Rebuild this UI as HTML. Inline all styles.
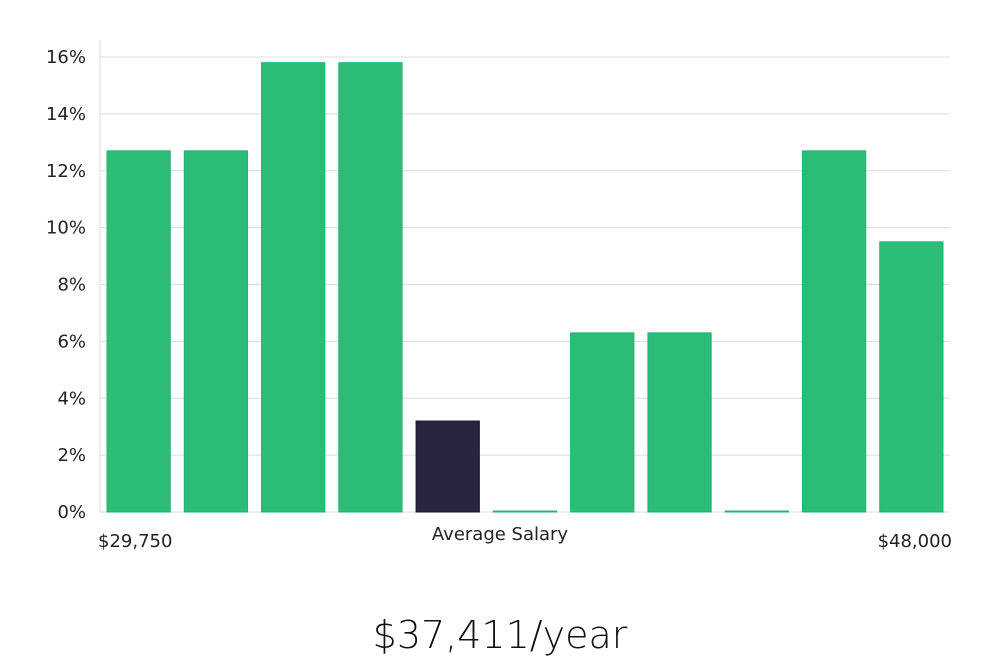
<!DOCTYPE html>
<html><head><meta charset="utf-8"><style>
body{margin:0;background:#fff;width:1000px;height:660px;overflow:hidden;font-family:"DejaVu Sans","Liberation Sans",sans-serif;}
</style></head><body>
<svg width="1000" height="660" id="chart" xmlns="http://www.w3.org/2000/svg">
<g id="grid"></g><g id="bars"></g><g id="labels"></g>
<text x="500" y="540" text-anchor="middle" font-size="18" fill="#222">Average Salary</text>
<text x="98" y="547" font-size="18" fill="#222">$29,750</text>
<text x="952" y="547" text-anchor="end" font-size="18" fill="#222">$48,000</text>
<text x="500" y="648" text-anchor="middle" font-size="38" font-weight="300" fill="#111">$37,411/year</text>
</svg>
<script>
const categories=["b1","b2","b3","b4","b5","b6","b7","b8","b9","b10","b11"];
const values=[12.7,12.7,15.8,15.8,3.2,0,6.3,6.3,0,12.7,9.5];
const highlight=[false,false,false,false,true,false,false,false,false,false,false];
const ticks=[0,2,4,6,8,10,12,14,16];
const NS="http://www.w3.org/2000/svg";
const y0=512,yTop=57,maxV=16,xL=100,xR=950;
const y=v=>y0-(v/maxV)*(y0-yTop);
const pitch=(xR-xL)/categories.length;
const g=document.getElementById('grid'),b=document.getElementById('bars');
function mk(t,a,p){const e=document.createElementNS(NS,t);for(const k in a)e.setAttribute(k,a[k]);p.appendChild(e);return e;}
ticks.forEach(t=>{
 const l=mk('line',{x1:xL,x2:xR,y1:y(t),y2:y(t),stroke:'#dcdcdc','stroke-width':1},g);
 
 
 const tx=mk('text',{x:86,y:y(t)+6,'text-anchor':'end','font-size':18,fill:'#222'},g);
 tx.textContent=t+'%';
 
 
});
const ax=mk('line',{x1:xL,x2:xL,y1:40,y2:y0,stroke:'#dcdcdc','stroke-width':1},g);


values.forEach((v,i)=>{
 const x=xL+7+i*pitch,h=Math.max(y0-y(v),1);
 const r=mk('rect',{x:x,y:y0-h,width:pitch-14,height:h,fill:highlight[i]?'#29253f':'#2bbd77',stroke:highlight[i]?'#1d1a33':'#22b56e','stroke-width':1},b);
 
 
});
</script>
</body></html>
